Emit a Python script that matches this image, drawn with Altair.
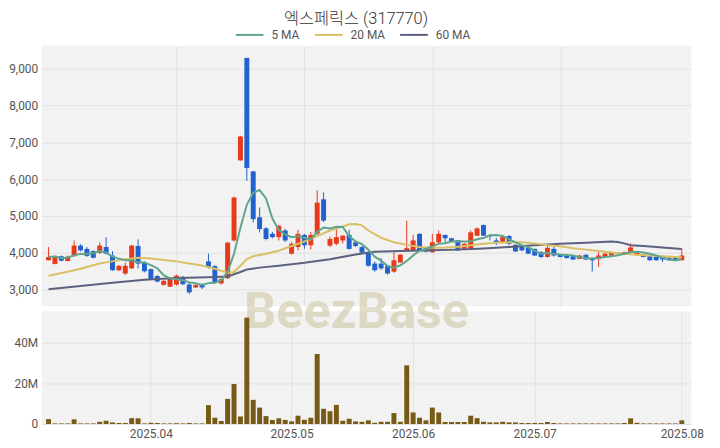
import altair as alt
import pandas as pd

# ---- data (trading-day index 0..99, 2025-03-10 .. 2025-08-01)
opens = [3790,3690,3900,3770,3900,4190,4100,4040,3990,4150,
         3920,3520,3430,3570,4180,3720,3550,3360,3120,3070,
         3130,3320,3130,3050,3140,3760,3630,3160,3300,4330,
         6510,9300,6210,4960,4660,4510,4420,4600,3970,4150,
         4480,4200,4510,5450,4190,4240,4330,4480,4280,4150,
         4000,3700,3700,3640,3480,3730,4060,4060,4510,4120,
         4010,4280,4480,4390,4330,4090,4100,4460,4750,4480,
         4330,4270,4450,4210,4180,4130,4100,4010,3880,4100,
         3950,3920,3900,3830,3940,3850,3830,3880,3920,4000,
         3950,4010,3930,3950,3900,3880,3880,3860,3860,3790]
highs = [4150,3920,3920,3920,4330,4230,4150,4060,4280,4420,
         4040,3660,3730,4210,4360,3760,3560,3390,3250,3290,
         3400,3370,3200,3130,3160,3970,3660,3300,4290,5520,
         7180,9300,6220,5230,4690,4560,4750,4650,4290,4620,
         4510,4560,5700,5640,4440,4710,4470,4620,4300,4180,
         4030,3760,3850,3660,4010,3960,4870,4480,4520,4150,
         4510,4600,4490,4400,4340,4250,4600,4680,4760,4490,
         4400,4480,4480,4220,4190,4140,4110,4040,4190,4150,
         3960,3930,3910,3940,3950,3860,4010,3990,4020,4010,
         4030,4250,4020,3960,3910,3890,3920,3870,3870,4120]
lows = [3790,3680,3760,3760,3890,4030,3880,3840,3960,3950,
        3500,3500,3390,3550,3570,3460,3270,3190,3100,3060,
        3100,3110,2870,3040,3010,3560,3160,3130,3280,4300,
        6500,5950,4820,4550,4330,4390,4330,4290,3940,4060,
        4100,4080,4480,4830,4150,4200,4250,4080,4150,3990,
        3620,3480,3530,3400,3450,3720,4040,4040,4040,4000,
        3990,4250,4280,4290,4040,4080,4080,4450,4450,4330,
        4200,4250,4200,4020,4040,3960,3910,3850,3860,3890,
        3870,3840,3800,3820,3800,3480,3610,3870,3900,3960,
        3940,3990,3910,3870,3780,3780,3740,3780,3760,3790]
closes = [3880,3900,3780,3890,4190,4060,3910,3860,4190,3970,
          3520,3640,3640,4190,3700,3490,3280,3210,3230,3280,
          3370,3140,2920,3120,3050,3610,3180,3280,4270,5500,
          7160,6300,4910,4640,4370,4420,4730,4330,4240,4510,
          4200,4480,5360,4870,4370,4420,4460,4100,4180,4000,
          3640,3520,3570,3430,3790,3940,4120,4330,4060,4030,
          4280,4510,4390,4300,4060,4240,4550,4660,4460,4440,
          4270,4420,4240,4030,4060,3970,3920,3880,4130,3920,
          3880,3850,3810,3920,3810,3790,3920,3970,3990,3960,
          4010,4140,4010,3880,3790,3790,3810,3790,3770,3920]
volumes_m = [2.4,0.3,0.3,0.3,2.3,0.3,0.3,0.3,1.1,1.6,
             0.8,0.5,0.5,2.9,2.8,0.3,0.6,0.5,0.3,0.3,
             0.4,0.3,0.5,0.3,0.3,9.3,3.1,1.5,12.4,19.7,
             3.7,52.4,11.9,8.1,3.9,2.0,2.8,2.0,1.3,4.1,
             2.1,3.1,34.5,7.5,6.3,9.4,1.6,2.6,1.3,1.1,
             1.8,0.6,1.1,1.1,5.4,1.1,28.9,5.7,3.1,1.8,
             8.1,5.7,1.0,1.0,1.0,1.0,4.1,2.9,1.1,0.8,
             0.8,1.1,0.8,0.8,0.5,0.5,0.5,0.5,1.0,0.5,
             0.3,0.3,0.3,0.3,0.3,0.3,0.3,0.3,0.3,0.3,
             0.5,2.8,0.6,0.3,0.3,0.3,0.3,0.3,0.3,1.8]
ma20_idx = [0,3,5,8,10,12,14,16,18,20,22,24,26,28,29,30,31,32,34,36,38,40,42,44,46,47,48,49,50,52,54,56,58,60,62,64,66,68,70,72,74,76,78,80,82,84,86,88,90,92,94,96,98,99]
ma20_val = [3370,3480,3560,3700,3760,3820,3860,3840,3800,3760,3700,3650,3560,3450,3470,3640,3820,3900,3970,4050,4180,4300,4450,4600,4710,4770,4780,4740,4600,4400,4280,4210,4150,4130,4140,4160,4200,4240,4270,4280,4280,4250,4200,4170,4120,4080,4040,4000,3970,3940,3920,3900,3880,3870]
ma60_idx = [0,5,10,15,20,25,28,29,30,31,33,36,40,44,48,51,55,60,64,68,72,76,80,84,88,89,90,91,93,96,99]
ma60_val = [3000,3090,3180,3260,3310,3330,3350,3410,3470,3540,3590,3640,3720,3820,3950,4020,4040,4060,4080,4110,4150,4200,4240,4270,4300,4290,4250,4200,4180,4140,4100]
month_ticks = [16, 38, 57, 76, 99]
month_labels = ["2025.04", "2025.05", "2025.06", "2025.07", "2025.08"]
price_ticks = [3000, 4000, 5000, 6000, 7000, 8000, 9000]
volume_ticks = [0, 20, 40]
ma_names = ["5 MA", "20 MA", "60 MA"]

RED = "#e8391b"
BLUE = "#2161d0"
VOL = "#765a16"
MA_COLORS = ["#5fa58d", "#d9c065", "#5c6180"]
FONT = "Roboto"

candles = pd.DataFrame({
    "i": list(range(len(closes))),
    "open": opens, "high": highs, "low": lows, "close": closes,
    "vol": volumes_m,
})
ma20 = pd.DataFrame({"i": ma20_idx, "v": ma20_val, "series": "20 MA"})
ma60 = pd.DataFrame({"i": ma60_idx, "v": ma60_val, "series": "60 MA"})

W, H1, H2 = 656, 263, 114
xscale = alt.Scale(domain=[-0.3, 99.7], nice=False, zero=False)
yscale = alt.Scale(domain=[2540, 9630], nice=False, zero=False)

x_top = alt.X("i:Q", scale=xscale,
              axis=alt.Axis(values=[20, 40, 60, 80], labels=False, ticks=False,
                            domain=False, title=None))
y_top = alt.Y("low:Q", scale=yscale,
              axis=alt.Axis(values=price_ticks, format=",d", title=None, ticks=False,
                            domain=False, labelPadding=4))

updown = alt.condition("datum.close >= datum.open", alt.value(RED), alt.value(BLUE))

base = alt.Chart(candles)
wicks = base.mark_rule(strokeWidth=1).encode(x=x_top, y=y_top, y2="high:Q", color=updown)
bodies = base.mark_bar(size=5).encode(
    x="i:Q", y=alt.Y("open:Q", scale=yscale, axis=alt.Axis(title=None)), y2="close:Q", color=updown)

color_scale = alt.Scale(domain=ma_names, range=MA_COLORS)
legend = alt.Legend(orient="none", legendX=195, legendY=-26, direction="horizontal",
                    title=None, symbolType="stroke", symbolSize=784, symbolStrokeWidth=2,
                    labelFontSize=12, labelColor="#555", labelFont=FONT,
                    columnPadding=11, labelOffset=7, padding=0)
ma_color = alt.Color("series:N", scale=color_scale, legend=legend)

line60 = alt.Chart(ma60).mark_line(strokeWidth=2).encode(
    x="i:Q", y=alt.Y("v:Q", scale=yscale, axis=alt.Axis(title=None)), color=ma_color)
line20 = alt.Chart(ma20).mark_line(strokeWidth=2).encode(
    x="i:Q", y=alt.Y("v:Q", scale=yscale, axis=alt.Axis(title=None)), color=ma_color)
line5 = base.transform_window(
    ma="mean(close)", frame=[-4, 0], sort=[alt.SortField("i")]
).transform_calculate(series="'5 MA'").mark_line(strokeWidth=2).encode(
    x="i:Q", y=alt.Y("ma:Q", scale=yscale, axis=alt.Axis(title=None)), color=ma_color)

top = alt.layer(wicks, bodies, line60, line20, line5).properties(width=W, height=H1)

label_expr = " : ".join(
    f"datum.value == {t} ? '{l}'" for t, l in zip(month_ticks, month_labels)) + " : ''"

watermark = alt.Chart(pd.DataFrame({"t": ["BeezBase"]})).mark_text(
    font=FONT, fontSize=51, fontWeight="bold", color="#c9bf96", opacity=0.5,
    align="center", baseline="alphabetic"
).encode(x=alt.value(318), y=alt.value(17), text="t:N")

vol_bars = base.mark_bar(size=5, color=VOL).encode(
    x=alt.X("i:Q", scale=xscale,
            axis=alt.Axis(values=month_ticks, labelExpr=label_expr, ticks=False,
                          domain=False, title=None, labelPadding=5, labelFontSize=12)),
    y=alt.Y("vol:Q", scale=alt.Scale(domain=[0, 55.6], nice=False),
            axis=alt.Axis(values=volume_ticks, title=None, ticks=False, domain=False,
                          labelPadding=4,
                          labelExpr="datum.value == 0 ? '0' : datum.value + 'M'")),
)
bottom = alt.layer(watermark, vol_bars).properties(width=W, height=H2)

chart = alt.vconcat(top, bottom, spacing=5, bounds="flush").properties(
    title=alt.Title("엑스페릭스 (317770)", font="Roboto, 'Noto Sans CJK KR'", fontSize=16.5,
                    fontWeight=300, color="#333", anchor="middle", offset=-8),
    padding={"left": 0, "top": 1, "right": 8, "bottom": 0},
).configure_view(fill="#f2f2f2", stroke=None).configure_axis(
    gridColor="#e2e2e2", labelColor="#555", labelFont=FONT, labelFontSize=12
)

chart.save("out.html", embed_options={"renderer": "svg", "actions": False})
